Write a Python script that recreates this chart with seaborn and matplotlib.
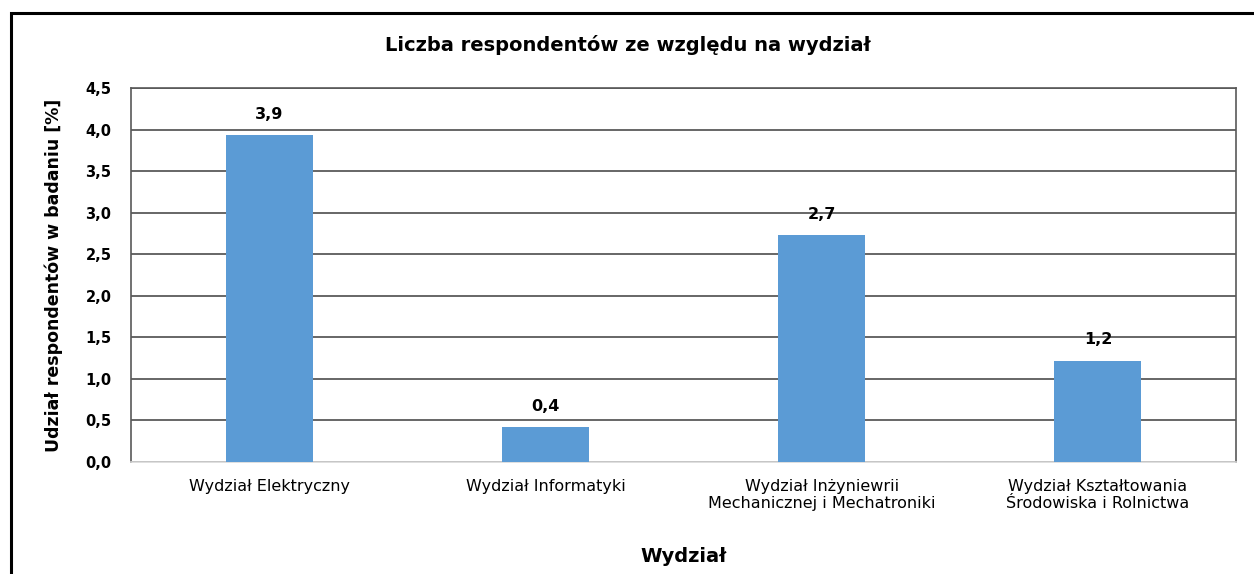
import matplotlib
matplotlib.use("Agg")
import matplotlib.pyplot as plt
import seaborn as sns
import pandas as pd
from matplotlib.patches import Rectangle

# data (labels show one decimal)
wydzialy = [
    "Wydział Elektryczny",
    "Wydział Informatyki",
    "Wydział Inżyniewrii\nMechanicznej i Mechatroniki",
    "Wydział Kształtowania\nŚrodowiska i Rolnictwa",
]
udzial = [3.93, 0.42, 2.73, 1.22]
y_ticks = [0.0, 0.5, 1.0, 1.5, 2.0, 2.5, 3.0, 3.5, 4.0, 4.5]

sns.set_theme(style="white")
plt.rcParams["font.family"] = ["DejaVu Sans"]
plt.rcParams["text.color"] = "black"
plt.rcParams["axes.labelcolor"] = "black"
plt.rcParams["xtick.color"] = "black"
plt.rcParams["ytick.color"] = "black"

df = pd.DataFrame({"Wydzial": wydzialy, "Udzial": udzial})

fig = plt.figure(figsize=(12.54, 5.74), dpi=100)
ax = fig.add_axes([131 / 1254, 1 - 462 / 574, (1236 - 131) / 1254, (462 - 88) / 574])

sns.barplot(data=df, x="Wydzial", y="Udzial", color="#5B9BD5", width=0.315,
            saturation=1, linewidth=0, ax=ax, zorder=3)

ax.set_ylim(0, 4.5)
ax.set_yticks(y_ticks)
ax.set_yticklabels([f"{v:.1f}".replace(".", ",") for v in y_ticks],
                   fontsize=10.5, fontweight="bold")
ax.tick_params(axis="x", labelsize=11.5, length=0, pad=12)
ax.tick_params(axis="y", length=0, pad=14)
ax.yaxis.grid(True, color="#4d4d4d", linewidth=1.2, zorder=0)
ax.set_axisbelow(True)

for s in ["left", "right", "top"]:
    ax.spines[s].set_color("#595959")
    ax.spines[s].set_linewidth(1.2)
ax.spines["bottom"].set_color("#d9d9d9")
ax.spines["bottom"].set_linewidth(1.2)

for i, v in enumerate(udzial):
    ax.annotate(f"{v:.1f}".replace(".", ","), (i, v), xytext=(0, 15),
                textcoords="offset points", ha="center", va="center",
                fontsize=11.5, fontweight="bold", color="black")

ax.set_xlabel("Wydział", fontsize=14, fontweight="bold", labelpad=26)
ax.set_ylabel("Udział respondentów w badaniu [%]", fontsize=12.5, fontweight="bold",
              labelpad=16)

fig.text(628 / 1254, 1 - 45 / 574, "Liczba respondentów ze względu na wydział",
         ha="center", va="center", fontsize=14, fontweight="bold")

fig.patches.append(Rectangle((11 / 1254, -0.1), 1.2, 1 - 13 / 574 + 0.1,
                             transform=fig.transFigure, fill=False,
                             edgecolor="black", linewidth=2.2))

fig.savefig("out.png", dpi=100)
